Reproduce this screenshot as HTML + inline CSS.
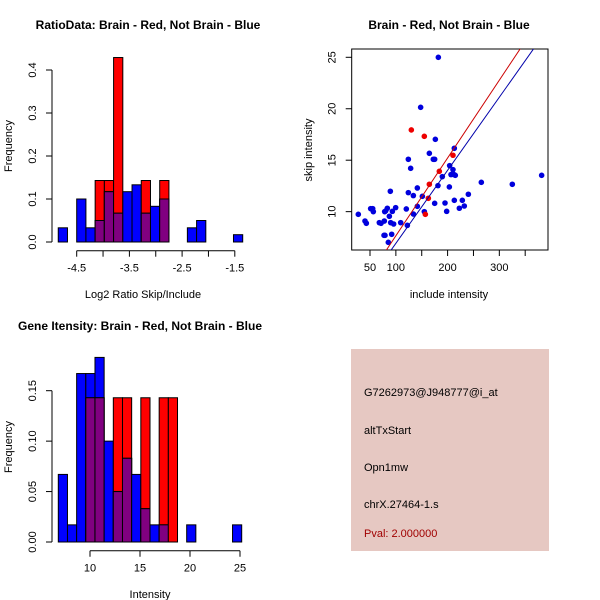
<!DOCTYPE html>
<html><head><meta charset="utf-8"><style>
body{margin:0;background:#fff;}
svg{display:block;font-family:"Liberation Sans",Arial,sans-serif;}
</style></head><body>
<svg id="c" width="600" height="600" viewBox="0 0 600 600" xmlns="http://www.w3.org/2000/svg">
<rect width="600" height="600" fill="#fff"/>
<text x="148" y="29" text-anchor="middle" font-size="12" font-weight="bold">RatioData: Brain - Red, Not Brain - Blue</text>
<text x="449" y="29" text-anchor="middle" font-size="12" font-weight="bold">Brain - Red, Not Brain - Blue</text>
<text x="140" y="330" text-anchor="middle" font-size="12" font-weight="bold">Gene Itensity: Brain - Red, Not Brain - Blue</text>
<text x="143" y="298" text-anchor="middle" font-size="11">Log2 Ratio Skip/Include</text>
<text x="12" y="146" text-anchor="middle" font-size="11" transform="rotate(-90 12 146)">Frequency</text>
<text x="449" y="298" text-anchor="middle" font-size="11">include intensity</text>
<text x="312" y="150" text-anchor="middle" font-size="11" transform="rotate(-90 312 150)">skip intensity</text>
<text x="150" y="598" text-anchor="middle" font-size="11">Intensity</text>
<text x="12" y="447" text-anchor="middle" font-size="11" transform="rotate(-90 12 447)">Frequency</text>
<g>
<rect x="351" y="349" width="198" height="202" fill="#e6c8c2"/>
<text x="364" y="396" font-size="11">G7262973@J948777@i_at</text>
<text x="364" y="434" font-size="11">altTxStart</text>
<text x="364" y="471" font-size="11">Opn1mw</text>
<text x="364" y="508" font-size="11">chrX.27464-1.s</text>
<text x="364" y="537" font-size="11" fill="#a00000">Pval: 2.000000</text>
</g>
</svg>
<script>
// ---- Ratio histogram data ----
const ratioBinStart = -4.85;
const ratioBinWidth = 0.175;
const ratioBlue = [0.033,0,0.1,0.033,0.05,0.117,0.067,0.117,0.133,0.067,0.083,0.1,0,0,0.033,0.05,0,0,0,0.017];
const ratioRed  = [0,0,0,0,0.143,0.143,0.429,0,0,0.143,0,0.143,0,0,0,0,0,0,0,0];
const ratioXTicks = [-4.5,-4,-3.5,-3,-2.5,-2,-1.5];
const ratioXLabels = ["-4.5","","-3.5","","-2.5","","-1.5"];
const ratioYTicks = [0,0.1,0.2,0.3,0.4];
const ratioYLabels = ["0.0","0.1","0.2","0.3","0.4"];
// ---- Intensity histogram data ----
const intBinStart = 6.83;
const intBinWidth = 0.917;
const intBlue = [0.067,0.017,0.167,0.167,0.183,0.1,0.05,0.083,0.067,0.033,0.017,0.017,0,0,0.017,0,0,0,0,0.017];
const intRed  = [0,0,0,0.143,0.143,0,0.143,0.143,0,0.143,0,0.143,0.143,0,0,0,0,0,0,0];
const intXTicks = [10,15,20,25];
const intXLabels = ["10","15","20","25"];
const intYTicks = [0,0.05,0.10,0.15];
const intYLabels = ["0.00","0.05","0.10","0.15"];
// ---- Scatter data ----
const blueInclude = [27.4,40.3,42.9,51.3,55.2,56.4,68.0,71.3,77.7,78.4,80.3,77.1,79.0,83.5,85.4,87.4,89.3,90.0,91.9,93.2,95.7,99.6,109.3,120.2,122.2,124.1,124.1,128.6,133.8,133.8,141.5,141.5,147.9,151.2,155.0,164.7,172.4,175.0,175.0,176.3,182.1,181.4,189.8,195.0,198.2,203.4,204.0,206.6,210.4,212.4,213.0,214.9,213.0,222.7,228.5,232.3,240.1,265.2,325.1,381.8];
const blueSkip = [9.74,9.09,8.87,10.29,10.29,10.0,8.93,8.87,9.09,10.0,10.07,7.70,7.70,10.33,7.02,9.55,11.98,8.93,7.80,10.03,8.80,10.39,8.93,10.26,8.67,11.85,15.09,14.21,9.77,11.56,12.30,10.52,20.14,11.49,10.0,15.67,15.09,15.09,10.81,17.03,25.0,12.53,13.40,10.84,10.03,12.40,14.47,13.60,14.08,13.60,16.16,13.53,11.10,10.33,11.10,10.55,11.69,12.85,12.66,13.53];
const redInclude = [129.9,155.0,157.0,162.8,164.7,184.0,210.4];
const redSkip = [17.94,17.32,9.74,11.30,12.66,13.92,15.48];
const redFit = [0.095,0.0756];   // intercept, slope
const blueFit = [-0.18,0.0710];
const scXTicks = [50,100,150,200,250,300,350];
const scXLabels = ["50","100","","200","","300",""];
const scYTicks = [10,15,20,25];
const scYLabels = ["10","15","20","25"];

const svg = document.getElementById('c');
const NS = 'http://www.w3.org/2000/svg';
function mk(tag, attrs, parent){
  const e = document.createElementNS(NS, tag);
  for (const k in attrs) e.setAttribute(k, attrs[k]);
  (parent||svg).appendChild(e);
  return e;
}
function histogram(name, binStart, binW, blue, red, xs, ys, xTicks, xLabels, yTicks, yLabels, axisY, axisX){
  const g = mk('g', {});
  
  
  const n = blue.length;
  for (let i = 0; i < n; i++){
    const x0 = xs(binStart + i*binW), x1 = xs(binStart + (i+1)*binW);
    const b = blue[i], r = red[i], m = Math.min(b, r);
    const bars = [];
    if (b > 0) bars.push([b, '#0000ff', 'blue']);
    if (r > 0) bars.push([r, '#ff0000', 'red']);
    bars.sort((a,c)=>c[0]-a[0]);
    for (const [v, col, nm] of bars){
      const rc = mk('rect', {x:x0, y:ys(v), width:x1-x0, height:ys(0)-ys(v), fill:col, stroke:'#000', 'stroke-width':1}, g);
      
      
    }
    if (m > 0){
      const rc = mk('rect', {x:x0, y:ys(m), width:x1-x0, height:ys(0)-ys(m), fill:'#800080', stroke:'#000', 'stroke-width':1}, g);
      
      
    }
  }
  const xa = mk('g', {}, g);
  
  
  mk('line', {x1:xs(xTicks[0]), x2:xs(xTicks[xTicks.length-1]), y1:axisY, y2:axisY, stroke:'#000'}, xa);
  xTicks.forEach((t,i)=>{
    mk('line', {x1:xs(t), x2:xs(t), y1:axisY, y2:axisY+6, stroke:'#000'}, xa);
    if (xLabels[i]) { const tx = mk('text', {x:xs(t), y:axisY+21, 'text-anchor':'middle', 'font-size':11}, xa); tx.textContent = xLabels[i]; }
  });
  const ya = mk('g', {}, g);
  
  
  mk('line', {x1:axisX, x2:axisX, y1:ys(yTicks[0]), y2:ys(yTicks[yTicks.length-1]), stroke:'#000'}, ya);
  yTicks.forEach((t,i)=>{
    mk('line', {x1:axisX-6, x2:axisX, y1:ys(t), y2:ys(t), stroke:'#000'}, ya);
    const lx = axisX-16;
    const tx = mk('text', {x:lx, y:ys(t), 'text-anchor':'middle', 'font-size':11, transform:`rotate(-90 ${lx} ${ys(t)})`}, ya);
    tx.textContent = yLabels[i];
  });
}
const rx = v => 76.7 + (v + 4.5) * 52.7;
const ry = v => 242 - v * 430;
histogram('ratio-histogram', ratioBinStart, ratioBinWidth, ratioBlue, ratioRed, rx, ry, ratioXTicks, ratioXLabels, ratioYTicks, ratioYLabels, 250.7, 52);
const ix = v => 90 + (v - 10) * 10;
const iy = v => 542 - v * 1008.7;
histogram('intensity-histogram', intBinStart, intBinWidth, intBlue, intRed, ix, iy, intXTicks, intXLabels, intYTicks, intYLabels, 550.7, 52);

const sx = v => 370 + (v - 50) * 0.5173;
const sy = v => 57.3 - (v - 25) * 10.29;
const L = 351.7, R = 548, T = 49, B = 250;
const sg = mk('g', {});


const clip = mk('clipPath', {id:'scclip'}, sg);
mk('rect', {x:L, y:T, width:R-L, height:B-T}, clip);
const box = mk('rect', {x:L, y:T, width:R-L, height:B-T, fill:'none', stroke:'#000'}, sg);


blueInclude.forEach((v,i)=>{
  const c = mk('circle', {cx:sx(v), cy:sy(blueSkip[i]), r:2.8, fill:'#0000dd'}, sg);
  
  
});
redInclude.forEach((v,i)=>{
  const c = mk('circle', {cx:sx(v), cy:sy(redSkip[i]), r:2.8, fill:'#ee0000'}, sg);
  
  
});
[[redFit,'#cc0000','red-fit-line'],[blueFit,'#0000aa','blue-fit-line']].forEach(([f,col,nm])=>{
  const xa = 0, xb = 500;
  const ln = mk('line', {x1:sx(xa), y1:sy(f[0]+f[1]*xa), x2:sx(xb), y2:sy(f[0]+f[1]*xb), stroke:col, 'stroke-width':1, 'clip-path':'url(#scclip)'}, sg);
  
  
});
const sxa = mk('g', {}, sg);


scXTicks.forEach((t,i)=>{
  mk('line', {x1:sx(t), x2:sx(t), y1:B, y2:B+6, stroke:'#000'}, sxa);
  if (scXLabels[i]) { const tx = mk('text', {x:sx(t), y:B+21, 'text-anchor':'middle', 'font-size':11}, sxa); tx.textContent = scXLabels[i]; }
});
const sya = mk('g', {}, sg);


scYTicks.forEach((t,i)=>{
  mk('line', {x1:L-6, x2:L, y1:sy(t), y2:sy(t), stroke:'#000'}, sya);
  const lx = L-16;
  const tx = mk('text', {x:lx, y:sy(t), 'text-anchor':'middle', 'font-size':11, transform:`rotate(-90 ${lx} ${sy(t)})`}, sya);
  tx.textContent = scYLabels[i];
});
</script>
</body></html>
